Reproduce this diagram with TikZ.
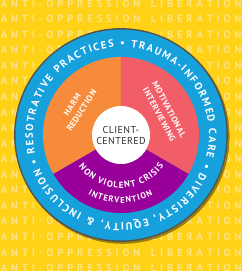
\documentclass[tikz,border=0pt]{standalone}
\usepackage{fontspec}
\setmainfont{PT Sans}
\newfontfamily\wfont[LetterSpace=6]{PT Sans}
\newfontfamily\cfont[LetterSpace=4]{PT Sans}
\usetikzlibrary{decorations.text}
\definecolor{bgyellow}{HTML}{FFD117}
\definecolor{bgtext}{HTML}{FCE386}
\definecolor{ringblue}{HTML}{16A0DC}
\definecolor{worange}{HTML}{F78B3C}
\definecolor{wpink}{HTML}{F25E68}
\definecolor{wpurple}{HTML}{990099}
\definecolor{rimgray}{HTML}{55534A}
\definecolor{ctext}{HTML}{2E2E2E}
\tikzset{
  bgrow/.style={decorate, decoration={text along path, text align=fit to path,
    text={|\fontsize{10.5}{12}\selectfont\bfseries\color{bgtext}|ANTI-OPPRESSION LIBERATION}}},
  ringtext/.style={decorate, decoration={text along path, text align=fit to path,
    text={|\fontsize{10.5}{12}\selectfont\bfseries\color{white}|• RESOTRATIVE PRACTICES • TRAUMA-INFORMED CARE • DIVERISTY, EQUITY, {\&} INCLUSION}}},
  wtext/.style={text=white, align=center, inner sep=0pt,
    font=\wfont\bfseries\fontsize{8.5}{11}\selectfont},
}
\begin{document}
\begin{tikzpicture}[x=1pt,y=1pt]
\useasboundingbox (-121,-136) rectangle (121,135);
\fill[bgyellow] (-121,-136) rectangle (121,135);
% background rows
\foreach \k in {0,...,17}{
  \pgfmathsetmacro{\yb}{135-(3.5+15.56*\k)-3.6}
  \path[bgrow] (-120,\yb) -- (120.5,\yb);
}
% shadow and ring
\fill[black, opacity=0.4] (1.6,-1.8) circle[radius=107];
\fill[ringblue] (0,0) circle[radius=106];
\draw[rimgray, line width=1.4pt] (0,0) circle[radius=106.2];
% wedges
\fill[worange] (0,0) -- (90:78) arc[start angle=90, end angle=210, radius=78] -- cycle;
\fill[wpink] (0,0) -- (-30:78) arc[start angle=-30, end angle=90, radius=78] -- cycle;
\fill[wpurple] (0,0) -- (210:78) arc[start angle=210, end angle=330, radius=78] -- cycle;
\fill[white] (0,0) circle[radius=29];
% ring text
\path[ringtext] (199:88) arc[start angle=199, end angle=-157.5, radius=88];
% purple wedge text
\path[decorate, decoration={text along path, text align=fit to path,
  text={|\fontsize{9}{10}\selectfont\bfseries\color{white}|NON VIOLENT CRISIS}}]
  (217:53) arc[start angle=217, end angle=324, radius=53];
\path[decorate, decoration={text along path, text align=fit to path,
  text={|\fontsize{8.5}{10}\selectfont\bfseries\color{white}|INTERVENTION}}]
  (241:68) arc[start angle=241, end angle=298, radius=68];
% wedge labels
\node[wtext, rotate=57] (harm) at (148:52) {HARM\\REDUCTION};
\node[wtext, rotate=-62] (moti) at (28:49) {MOTIVATIONAL\\INTERVIEWING};
\node[font=\cfont\fontsize{10}{10.5}\selectfont, text=ctext, align=center, inner sep=0pt] (cc) at (0,-0.5) {CLIENT-\\CENTERED};
\end{tikzpicture}
\end{document}
